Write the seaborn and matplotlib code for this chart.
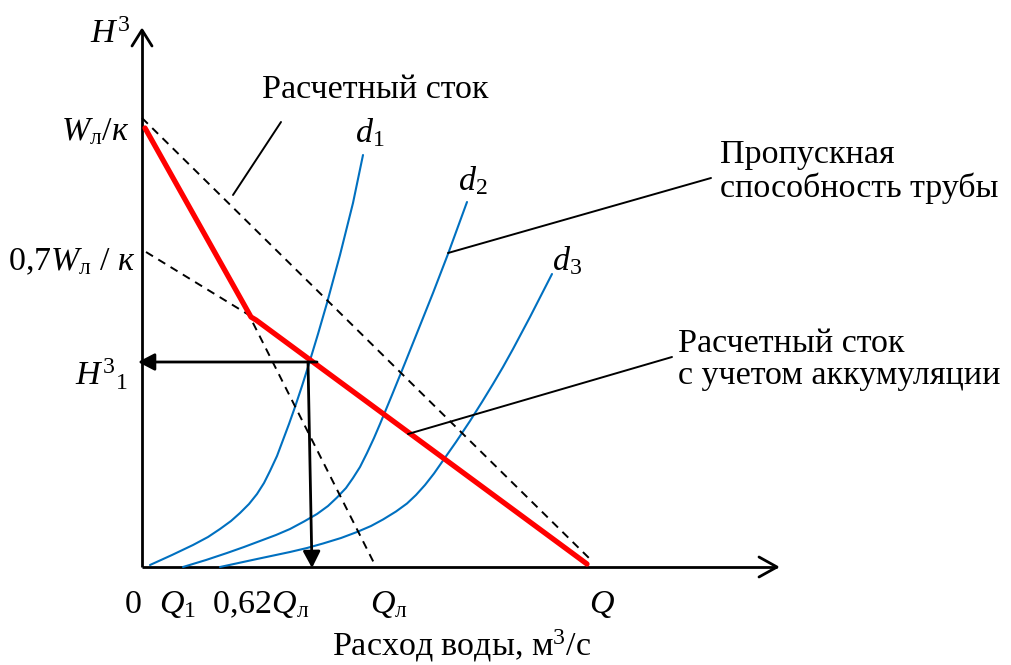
import numpy as np
import pandas as pd
import matplotlib
matplotlib.use("Agg")
import matplotlib.pyplot as plt
import seaborn as sns

sns.set_style("white")
plt.rcParams['font.family'] = ['Liberation Serif', 'DejaVu Serif']
plt.rcParams['text.color'] = 'black'
plt.rcParams['mathtext.fontset'] = 'custom'
plt.rcParams['mathtext.rm'] = 'Liberation Serif'
plt.rcParams['mathtext.it'] = 'Liberation Serif:italic'
plt.rcParams['mathtext.bf'] = 'Liberation Serif:bold'

# ---- data (schematic units: x = discharge, y = head) ----
# pipe capacity curves d1, d2, d3
d1_x = [8, 30, 51, 66, 78, 89, 98, 107, 115, 122, 128, 135, 141, 147, 153, 160, 166, 176, 185, 198, 211, 221]
d1_y = [2, 12, 22, 30, 38, 46, 54, 63, 73, 84, 96, 111, 127, 143, 160, 181, 200, 233, 264, 312, 364, 412]
d2_x = [41, 64, 85, 102, 118, 134, 148, 162, 175, 186, 195, 204, 211, 218, 225, 232, 238, 250, 263, 276, 291, 306, 325]
d2_y = [0, 7, 14, 20, 26, 32, 38, 45.5, 53, 61, 69.5, 79, 89, 100, 114, 129, 143, 172, 204, 236.5, 274, 313, 365]
d3_x = [78, 115, 148, 165, 181, 199, 215, 229, 241, 254, 265, 274, 283, 292, 300, 314, 328, 340, 351, 361, 371, 388, 410]
d3_y = [0, 8, 15, 19, 23.5, 29, 35, 41, 47.5, 55.5, 63.5, 72, 82, 93.5, 105, 125, 146, 165, 183, 200, 218, 250, 293]

# design runoff (dashed)
runoff_x = [0, 449]
runoff_y = [449, 7]
# 0.7 W/k line (dashed, broken)
runoff07_x = [4, 107, 233]
runoff07_y = [315, 252, 2]
# design runoff with accumulation (red)
accum_x = [3, 109, 114, 445]
accum_y = [439, 250, 247, 3]

# solution point H3_1 / 0.62 Q_l
h1_point = (166, 205)
h1_axis_y = (-4, 205)
q062_axis = (170, -1)

# axis extents
x_axis_end = 635
y_axis_end = 537

# tick-like labels on the x axis
xlab_pos = [-9, 35, 119, 247, 460]
xlab_txt = ['0', '$Q_1$', '0,62$Q_{\\mathrm{л}}$', '$Q_{\\mathrm{л}}$', '$Q$']
# labels on the y axis
ylab_txt = ['$W_{\\mathrm{л}}/к$', '0,7$W_{\\mathrm{л}}$ / $к$', '$H^3{}_1$']
ylab_pos = [427, 297, 182]
ylab_right = [-12, -6, -15]

curve_names = ['$d_1$', '$d_2$', '$d_3$']
curve_lab_pos = [(213, 425), (316, 377), (410, 297)]

# ---- figure ----
fig = plt.figure(figsize=(10.12, 6.65), dpi=100)
ax = fig.add_axes([0, 0, 1, 1])
ax.set_xlim(-142, 870)
ax.set_ylim(-98, 567)
ax.axis('off')

FS = 24.5
BLUE = '#0070C0'
RED = '#FF0000'

# axes with open arrow heads
ax.plot([0, x_axis_end], [0, 0], color='black', lw=2, solid_capstyle='butt')
ax.plot([0, 0], [0, y_axis_end], color='black', lw=2, solid_capstyle='butt')
ax.plot([x_axis_end - 18, x_axis_end, x_axis_end - 18], [10, 0, -10], color='black', lw=2)
ax.plot([-10, 0, 10], [y_axis_end - 16, y_axis_end, y_axis_end - 16], color='black', lw=2)

# capacity curves
for cx, cy in [(d1_x, d1_y), (d2_x, d2_y), (d3_x, d3_y)]:
    df = pd.DataFrame({'q': cx, 'h': cy})
    sns.lineplot(data=df, x='q', y='h', sort=False, color=BLUE, linewidth=1.5, ax=ax)

# dashed runoff lines
dash = (0, (4.2, 3.2))
sns.lineplot(x=runoff_x, y=runoff_y, sort=False, color='black', linewidth=1.4,
             linestyle=dash, ax=ax)
sns.lineplot(x=runoff07_x, y=runoff07_y, sort=False, color='black', linewidth=1.4,
             linestyle=dash, ax=ax)

# red accumulated runoff
sns.lineplot(x=accum_x, y=accum_y, sort=False, color=RED, linewidth=3.8, ax=ax)

# solution arrows
arr = dict(arrowstyle='-|>,head_length=0.5,head_width=0.26', color='black', lw=2,
           mutation_scale=20, shrinkA=0, shrinkB=0)
ax.annotate('', xy=h1_axis_y, xytext=(h1_point[0] + 9, h1_point[1]), arrowprops=arr)
ax.annotate('', xy=q062_axis, xytext=h1_point, arrowprops=arr)

# leader lines
leaders = [((91, 372), (139, 445)), ((306, 314), (569, 389)), ((266, 133), (530, 210))]
for (a, b) in leaders:
    ax.plot([a[0], b[0]], [a[1], b[1]], color='black', lw=1.4)

# texts
ax.text(-52, 524, '$H^3$', fontsize=FS, ha='left', va='baseline')
for t, y, xr in zip(ylab_txt, ylab_pos, ylab_right):
    ax.text(xr, y, t, fontsize=FS, ha='right', va='baseline')
for t, x in zip(xlab_txt, xlab_pos):
    ax.text(x, -46, t, fontsize=FS, ha='center', va='baseline')
ax.text(320, -88, 'Расход воды, м$^3$/с', fontsize=FS, ha='center', va='baseline')

for t, (x, y) in zip(curve_names, curve_lab_pos):
    ax.text(x, y, t, fontsize=FS, ha='left', va='baseline')

ax.text(120, 469, 'Расчетный сток', fontsize=FS, ha='left', va='baseline')
ax.text(578, 404, 'Пропускная', fontsize=FS, ha='left', va='baseline')
ax.text(578, 370, 'способность трубы', fontsize=FS, ha='left', va='baseline')
ax.text(536, 215, 'Расчетный сток', fontsize=FS, ha='left', va='baseline')
ax.text(536, 183, 'с учетом аккумуляции', fontsize=FS, ha='left', va='baseline')

fig.savefig('out.png', dpi=100, facecolor='white')
